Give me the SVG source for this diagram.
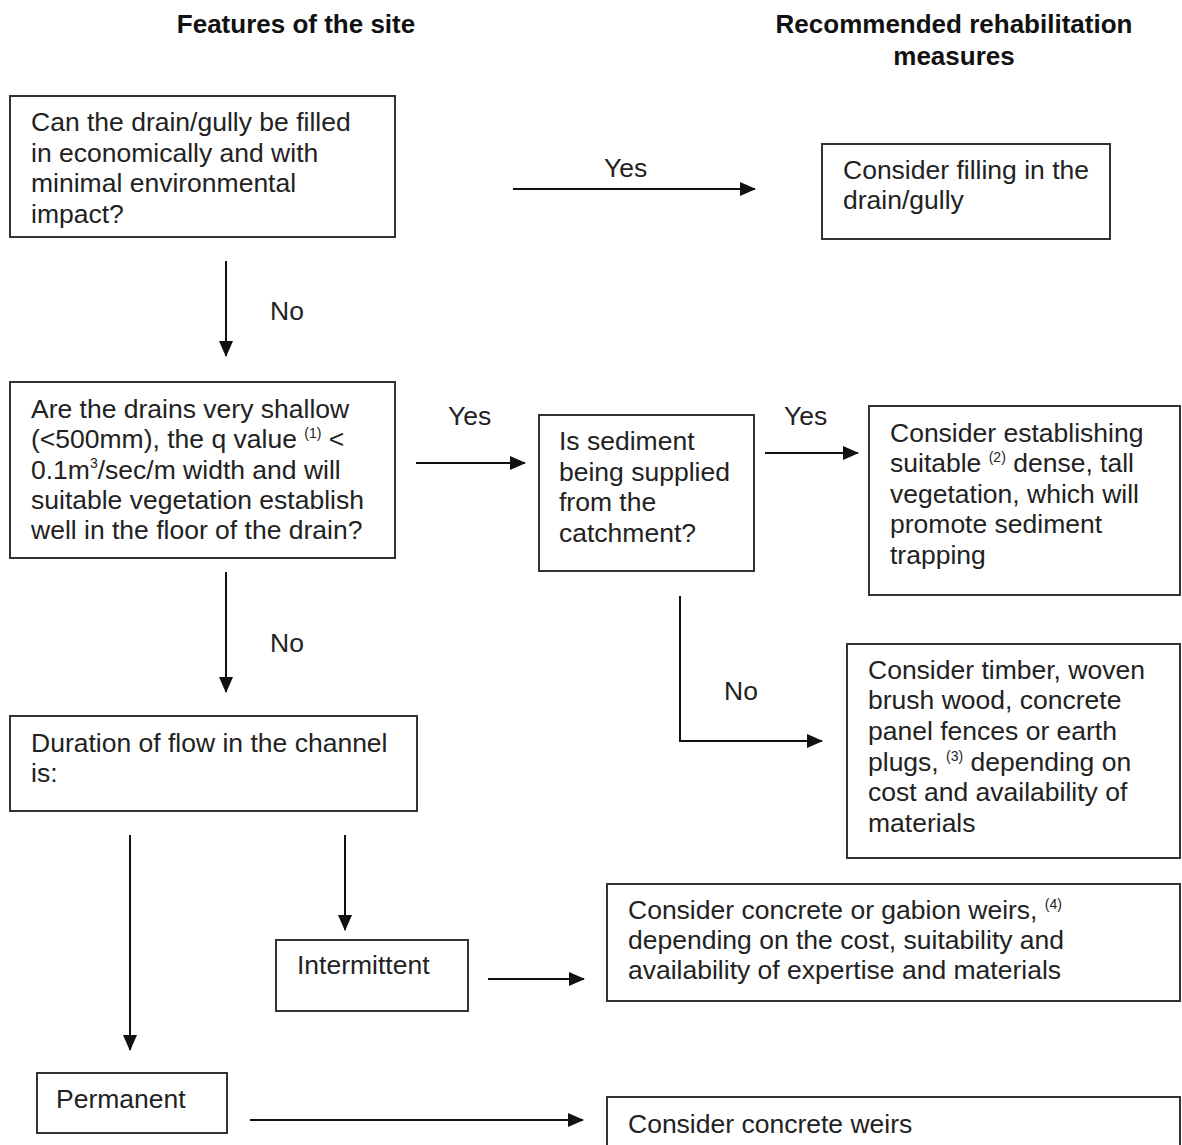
<svg xmlns="http://www.w3.org/2000/svg" width="1182" height="1145" viewBox="0 0 1182 1145">
<defs>
<style>
text{font-family:"Liberation Sans",Arial,sans-serif;font-size:26.5px;fill:#222}
.h{font-weight:bold;text-anchor:middle;fill:#111;font-size:26px}
.box{fill:#fff;stroke:#333;stroke-width:2}
.sup{font-size:14px}
.c{fill:none;stroke:#111;stroke-width:2}
</style>
<marker id="ah" markerUnits="userSpaceOnUse" markerWidth="16" markerHeight="14" refX="15" refY="7" orient="auto">
<path d="M0,0 L16,7 L0,14 z" fill="#111"/>
</marker>
</defs>
<rect width="1182" height="1145" fill="#fff"/>
<g id="headers">
<text class="h" x="296" y="33">Features of the site</text>
<text class="h" x="954" y="33">Recommended rehabilitation</text>
<text class="h" x="954" y="65">measures</text>
</g>
<g id="connectors">
<path class="c" d="M513 189 H755" marker-end="url(#ah)"/>
<path class="c" d="M226 261 V356" marker-end="url(#ah)"/>
<path class="c" d="M416 463 H525" marker-end="url(#ah)"/>
<path class="c" d="M765 453 H858" marker-end="url(#ah)"/>
<path class="c" d="M680 596 V741 H822" marker-end="url(#ah)"/>
<path class="c" d="M226 572 V692" marker-end="url(#ah)"/>
<path class="c" d="M345 835 V930" marker-end="url(#ah)"/>
<path class="c" d="M488 979 H584" marker-end="url(#ah)"/>
<path class="c" d="M130 835 V1050" marker-end="url(#ah)"/>
<path class="c" d="M250 1120 H583" marker-end="url(#ah)"/>
<text x="604" y="177">Yes</text>
<text x="270" y="320">No</text>
<text x="448" y="425">Yes</text>
<text x="784" y="425">Yes</text>
<text x="270" y="652">No</text>
<text x="724" y="700">No</text>
</g>
<g id="q1">
<rect class="box" x="10" y="96" width="385" height="141"/>
<text x="31" y="131">Can the drain/gully be filled</text>
<text x="31" y="162">in economically and with</text>
<text x="31" y="192">minimal environmental</text>
<text x="31" y="223">impact?</text>
</g>
<g id="fill">
<rect class="box" x="822" y="144" width="288" height="95"/>
<text x="843" y="179">Consider filling in the</text>
<text x="843" y="209">drain/gully</text>
</g>
<g id="q2">
<rect class="box" x="10" y="382" width="385" height="176"/>
<text x="31" y="418">Are the drains very shallow</text>
<text x="31" y="448">(&lt;500mm), the q value <tspan class="sup" dy="-10">(1)</tspan><tspan dy="10"> &lt;</tspan></text>
<text x="31" y="479">0.1m<tspan class="sup" dy="-11">3</tspan><tspan dy="11">/sec/m width and will</tspan></text>
<text x="31" y="509">suitable vegetation establish</text>
<text x="31" y="539">well in the floor of the drain?</text>
</g>
<g id="q3">
<rect class="box" x="539" y="415" width="215" height="156"/>
<text x="559" y="450">Is sediment</text>
<text x="559" y="481">being supplied</text>
<text x="559" y="511">from the</text>
<text x="559" y="542">catchment?</text>
</g>
<g id="veg">
<rect class="box" x="869" y="406" width="311" height="189"/>
<text x="890" y="442">Consider establishing</text>
<text x="890" y="472">suitable <tspan class="sup" dy="-10">(2)</tspan><tspan dy="10"> dense, tall</tspan></text>
<text x="890" y="503">vegetation, which will</text>
<text x="890" y="533">promote sediment</text>
<text x="890" y="564">trapping</text>
</g>
<g id="timber">
<rect class="box" x="847" y="644" width="333" height="214"/>
<text x="868" y="679">Consider timber, woven</text>
<text x="868" y="709">brush wood, concrete</text>
<text x="868" y="740">panel fences or earth</text>
<text x="868" y="771">plugs, <tspan class="sup" dy="-10">(3)</tspan><tspan dy="10"> depending on</tspan></text>
<text x="868" y="801">cost and availability of</text>
<text x="868" y="832">materials</text>
</g>
<g id="duration">
<rect class="box" x="10" y="716" width="407" height="95"/>
<text x="31" y="752">Duration of flow in the channel</text>
<text x="31" y="782">is:</text>
</g>
<g id="intermittent">
<rect class="box" x="276" y="940" width="192" height="71"/>
<text x="297" y="974">Intermittent</text>
</g>
<g id="gabion">
<rect class="box" x="607" y="884" width="573" height="117"/>
<text x="628" y="919">Consider concrete or gabion weirs, <tspan class="sup" dy="-10">(4)</tspan></text>
<text x="628" y="949">depending on the cost, suitability and</text>
<text x="628" y="979">availability of expertise and materials</text>
</g>
<g id="permanent">
<rect class="box" x="37" y="1073" width="190" height="60"/>
<text x="56" y="1108">Permanent</text>
</g>
<g id="weirs">
<rect class="box" x="607" y="1097" width="573" height="70"/>
<text x="628" y="1133">Consider concrete weirs</text>
</g>
</svg>
